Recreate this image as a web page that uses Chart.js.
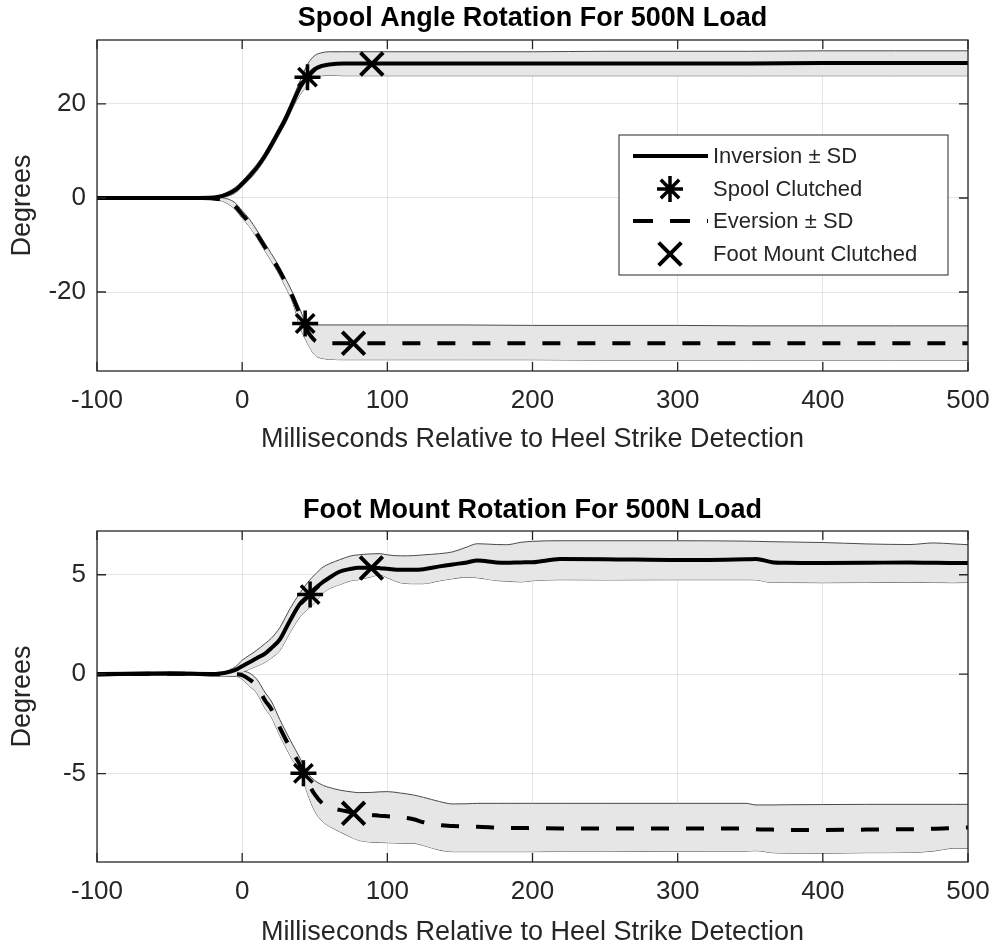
<!DOCTYPE html>
<html lang="en">
<head>
    <meta charset="UTF-8">
    <title>Spool / Foot Mount Rotation</title>
    <script src="https://cdn.jsdelivr.net/npm/chart.js"></script>
    <style>
        body { margin: 0; background: #fff; }
        .wrap { position: relative; width: 996px; height: 949px; }
        canvas { position: absolute; left: 0; }
        #spoolChart { top: 0; }
        #footChart { top: 474px; }
    </style>
</head>
<body>
<div class="wrap">
    <canvas id="spoolChart" width="996" height="474"></canvas>
    <canvas id="footChart" width="996" height="475"></canvas>
</div>
<script>
    // ---- data ----
    const xTicks = [-100, 0, 100, 200, 300, 400, 500];

    // top panel: spool angle (deg)
    const spoolTime = [-100, -60, -30, -17, -10, -5, 0, 5, 10, 15, 20, 25, 30, 35, 40, 45, 50, 55, 60, 70, 80, 100, 150, 200, 250, 300, 350, 400, 450, 500];
    const spoolInvMean = [0, 0, 0, 0.2, 0.8, 1.6, 3.0, 4.6, 6.4, 8.6, 11.2, 14.0, 16.9, 20.3, 23.6, 25.8, 27.4, 28.1, 28.4, 28.6, 28.6, 28.6, 28.6, 28.6, 28.6, 28.6, 28.6, 28.7, 28.7, 28.7];
    const spoolInvHi = [0.15, 0.15, 0.15, 0.4, 1.3, 2.2, 3.6, 5.3, 7.1, 9.3, 12.0, 14.8, 17.8, 21.3, 25.0, 28.4, 30.3, 30.9, 31.1, 31.1, 31.1, 31.1, 31.1, 31.1, 31.2, 31.2, 31.2, 31.3, 31.3, 31.3];
    const spoolInvLo = [-0.15, -0.15, -0.15, 0, 0.4, 1.0, 2.4, 3.9, 5.7, 7.9, 10.4, 13.2, 16.0, 19.3, 22.0, 24.0, 25.6, 26.0, 26.1, 26.0, 26.0, 26.0, 26.0, 26.0, 26.0, 26.0, 26.0, 26.0, 26.0, 26.0];
    const spoolEvMean = [0, 0, 0, -0.2, -0.7, -1.7, -3.5, -5.3, -7.6, -10.1, -12.6, -15.1, -18.0, -21.2, -25.0, -28.3, -30.3, -30.8, -30.9, -30.9, -30.9, -30.9, -30.9, -30.9, -30.9, -30.9, -30.9, -30.9, -30.9, -30.9];
    const spoolEvHi = [0.15, 0.15, 0.15, 0.1, -0.2, -1.0, -2.7, -4.5, -6.8, -9.3, -11.8, -14.3, -17.2, -20.3, -23.8, -26.9, -27.0, -27.0, -27.0, -27.0, -27.0, -27.0, -27.0, -27.1, -27.1, -27.1, -27.2, -27.2, -27.2, -27.2];
    const spoolEvLo = [-0.15, -0.15, -0.15, -0.4, -1.2, -2.4, -4.3, -6.1, -8.4, -10.9, -13.4, -16.0, -19.0, -22.4, -27.6, -30.9, -33.4, -34.1, -34.3, -34.4, -34.4, -34.4, -34.4, -34.4, -34.5, -34.5, -34.5, -34.5, -34.5, -34.5];
    const spoolStarX = [45, 43.4];
    const spoolStarY = [25.7, -26.7];
    const spoolCrossX = [89.3, 76.7];
    const spoolCrossY = [28.5, -30.9];
    const spoolYTicks = [-20, 0, 20];

    // bottom panel: foot mount (deg)
    const footTime = [-100, -50, -20, -5, 0, 5, 10, 16, 20, 26, 33, 40, 45, 50, 56, 60, 67, 75, 80, 89, 95, 100, 109, 118, 125, 136, 145, 155, 162, 175, 182, 192, 200, 219, 250, 300, 347, 354, 365, 375, 400, 430, 460, 476, 490, 500];
    const footInvMean = [0, 0.03, 0, 0.2, 0.4, 0.6, 0.8, 1.05, 1.3, 1.75, 2.7, 3.55, 3.9, 4.3, 4.65, 4.85, 5.15, 5.3, 5.35, 5.35, 5.33, 5.3, 5.25, 5.25, 5.28, 5.42, 5.52, 5.62, 5.72, 5.62, 5.6, 5.62, 5.63, 5.79, 5.78, 5.74, 5.78, 5.79, 5.63, 5.6, 5.59, 5.6, 5.62, 5.6, 5.59, 5.59];
    const footInvHi = [0.08, 0.1, 0.08, 0.35, 0.7, 0.95, 1.2, 1.55, 1.8, 2.35, 3.3, 4.1, 4.6, 5.0, 5.4, 5.55, 5.75, 5.95, 6.0, 6.05, 6.06, 6.0, 5.95, 5.96, 6.0, 6.06, 6.15, 6.4, 6.56, 6.52, 6.51, 6.63, 6.68, 6.71, 6.71, 6.71, 6.69, 6.68, 6.66, 6.65, 6.62, 6.55, 6.52, 6.6, 6.55, 6.51];
    const footInvLo = [-0.08, -0.05, -0.08, -0.1, 0.1, 0.25, 0.4, 0.6, 0.8, 1.2, 2.1, 2.9, 3.25, 3.6, 4.1, 4.3, 4.5, 4.7, 4.75, 4.9, 5.0, 4.85, 4.6, 4.55, 4.55, 4.7, 4.8, 4.88, 4.85, 4.71, 4.68, 4.64, 4.7, 4.75, 4.74, 4.75, 4.75, 4.74, 4.61, 4.61, 4.6, 4.61, 4.62, 4.61, 4.6, 4.61];
    const footEvMean = [0, 0.02, 0, 0, -0.05, -0.27, -0.6, -1.35, -1.75, -2.7, -3.7, -4.6, -5.4, -6.05, -6.55, -6.7, -6.83, -6.95, -7.02, -7.08, -7.13, -7.15, -7.2, -7.3, -7.45, -7.59, -7.64, -7.67, -7.68, -7.72, -7.74, -7.74, -7.75, -7.76, -7.76, -7.76, -7.76, -7.8, -7.82, -7.84, -7.84, -7.82, -7.8, -7.78, -7.74, -7.71];
    const footEvHi = [0.08, 0.1, 0.08, 0.1, 0.15, 0.05, -0.25, -0.95, -1.35, -2.3, -3.3, -4.25, -4.95, -5.35, -5.6, -5.7, -5.83, -5.92, -5.96, -5.95, -5.92, -5.91, -5.98, -6.08, -6.2, -6.41, -6.53, -6.52, -6.5, -6.5, -6.5, -6.5, -6.5, -6.5, -6.5, -6.5, -6.5, -6.58, -6.58, -6.57, -6.56, -6.55, -6.55, -6.55, -6.55, -6.55];
    const footEvLo = [-0.08, -0.05, -0.08, -0.1, -0.25, -0.6, -0.95, -1.75, -2.15, -3.1, -4.1, -5.0, -6.0, -6.9, -7.45, -7.65, -7.92, -8.2, -8.35, -8.45, -8.47, -8.48, -8.5, -8.51, -8.62, -8.85, -8.93, -8.93, -8.93, -8.93, -8.93, -8.93, -8.93, -8.92, -8.92, -8.91, -8.9, -8.88, -8.98, -9.0, -9.01, -8.98, -8.97, -8.9, -8.76, -8.76];
    const footStarX = [46.8, 42.2];
    const footStarY = [4.0, -4.99];
    const footCrossX = [89, 76.7];
    const footCrossY = [5.34, -7.0];
    const footYTicks = [-5, 0, 5];

    // ---- styling ----
    const FONT = "'Liberation Sans', Arial, sans-serif";
    const AX = '#262626';
    const BAND_FILL = '#e6e6e6';
    const BAND_EDGE = '#4a4a4a';
    const DASH = [18, 17];

    function pts(xs, ys) {
        return xs.map((x, i) => ({ x: x, y: ys[i] }));
    }

    function buildDatasets(t, invMean, invHi, invLo, evMean, evHi, evLo, starX, starY, crossX, crossY) {
        const band = (data, fill) => ({
            data: data, fill: fill, backgroundColor: BAND_FILL, borderColor: BAND_EDGE,
            borderWidth: 1, pointRadius: 0, cubicInterpolationMode: 'monotone', order: 5
        });
        const mean = (data, dash) => ({
            data: data, fill: false, borderColor: '#000', borderWidth: 4, borderDash: dash,
            pointRadius: 0, cubicInterpolationMode: 'monotone', order: 1
        });
        const marks = (data, style, r, w) => ({
            data: data, showLine: false, pointStyle: style, pointRadius: r,
            pointBorderWidth: w, pointBorderColor: '#000', pointBackgroundColor: '#000', order: 0
        });
        return [
            band(pts(t, invHi), '+1'),
            band(pts(t, invLo), false),
            band(pts(t, evHi), '+1'),
            band(pts(t, evLo), false),
            mean(pts(t, invMean), []),
            mean(pts(t, evMean), DASH),
            marks(pts(starX, starY), 'star', 13, 3.5),
            marks(pts(crossX, crossY), 'crossRot', 16, 4)
        ];
    }

    function marker(ctx, style, x, y, r) {
        ctx.beginPath();
        if (style === 'star') {
            ctx.moveTo(x - r, y); ctx.lineTo(x + r, y);
            ctx.moveTo(x, y - r); ctx.lineTo(x, y + r);
        }
        const d = r * Math.SQRT1_2;
        ctx.moveTo(x - d, y - d); ctx.lineTo(x + d, y + d);
        ctx.moveTo(x - d, y + d); ctx.lineTo(x + d, y - d);
        ctx.stroke();
    }

    // box, inward ticks, panel title and (top panel) legend
    const framePlugin = {
        id: 'frame',
        afterDraw(chart, args, opts) {
            const ctx = chart.ctx;
            const a = chart.chartArea;
            const xs = chart.scales.x, ys = chart.scales.y;
            ctx.save();
            ctx.strokeStyle = AX;
            ctx.lineWidth = 1.3;
            ctx.strokeRect(a.left, a.top, a.right - a.left, a.bottom - a.top);
            ctx.beginPath();
            xs.ticks.forEach(tk => {
                const p = xs.getPixelForValue(tk.value);
                ctx.moveTo(p, a.bottom); ctx.lineTo(p, a.bottom - 9);
                ctx.moveTo(p, a.top); ctx.lineTo(p, a.top + 9);
            });
            ys.ticks.forEach(tk => {
                const p = ys.getPixelForValue(tk.value);
                ctx.moveTo(a.left, p); ctx.lineTo(a.left + 9, p);
                ctx.moveTo(a.right, p); ctx.lineTo(a.right - 9, p);
            });
            ctx.stroke();

            ctx.fillStyle = '#000';
            ctx.font = 'bold 27px ' + FONT;
            ctx.textAlign = 'center';
            ctx.textBaseline = 'middle';
            ctx.fillText(opts.title, (a.left + a.right) / 2, opts.titleY);

            if (opts.legend) {
                const L = 619, T = 135, R = 948, B = 275;
                ctx.fillStyle = '#fff';
                ctx.fillRect(L, T, R - L, B - T);
                ctx.lineWidth = 1;
                ctx.strokeStyle = AX;
                ctx.strokeRect(L, T, R - L, B - T);
                ctx.strokeStyle = '#000';
                ctx.lineWidth = 4;
                ctx.beginPath(); ctx.moveTo(633, 156); ctx.lineTo(708, 156); ctx.stroke();
                ctx.setLineDash([20, 17]);
                ctx.beginPath(); ctx.moveTo(633, 221); ctx.lineTo(708, 221); ctx.stroke();
                ctx.setLineDash([]);
                ctx.lineWidth = 3.5;
                marker(ctx, 'star', 670, 189, 13);
                ctx.lineWidth = 4;
                marker(ctx, 'crossRot', 670, 254, 16);
                ctx.fillStyle = '#262626';
                ctx.font = '22px ' + FONT;
                ctx.textAlign = 'left';
                const labels = ['Inversion \u00b1 SD', 'Spool Clutched', 'Eversion \u00b1 SD', 'Foot Mount Clutched'];
                [157, 190, 222, 255].forEach((y, i) => ctx.fillText(labels[i], 713, y));
            }
            ctx.restore();
        }
    };

    function makeChart(id, datasets, yMin, yMax, yTicks, padTop, xHeight, xTitlePad, title, titleY, legend) {
        const tickFont = { family: FONT, size: 26 };
        const labelFont = { family: FONT, size: 27 };
        return new Chart(document.getElementById(id), {
            type: 'line',
            data: { datasets: datasets },
            plugins: [framePlugin],
            options: {
                responsive: false,
                animation: false,
                devicePixelRatio: 1,
                layout: { padding: { top: padTop, right: 28, left: 0, bottom: 0 } },
                plugins: {
                    legend: { display: false },
                    tooltip: { enabled: false },
                    frame: { title: title, titleY: titleY, legend: legend }
                },
                scales: {
                    x: {
                        type: 'linear', min: -100, max: 500,
                        afterBuildTicks: s => { s.ticks = xTicks.map(v => ({ value: v })); },
                        afterFit: s => { s.height = xHeight; s.paddingLeft = 0; s.paddingRight = 0; },
                        grid: { color: 'rgba(0,0,0,0.1)', drawTicks: false },
                        border: { display: false },
                        ticks: { padding: 14, font: tickFont, color: AX, callback: v => String(v) },
                        title: {
                            display: true, text: 'Milliseconds Relative to Heel Strike Detection',
                            font: labelFont, color: AX, padding: { top: 0, bottom: xTitlePad }
                        }
                    },
                    y: {
                        min: yMin, max: yMax,
                        afterBuildTicks: s => { s.ticks = yTicks.map(v => ({ value: v })); },
                        afterFit: s => { s.width = 97; s.paddingTop = 0; s.paddingBottom = 0; },
                        grid: { color: 'rgba(0,0,0,0.1)', drawTicks: false },
                        border: { display: false },
                        ticks: { padding: 11, font: tickFont, color: AX, callback: v => String(v) },
                        title: {
                            display: true, text: 'Degrees', font: labelFont, color: AX,
                            padding: { top: 6, bottom: 0 }
                        }
                    }
                }
            }
        });
    }

    makeChart('spoolChart',
        buildDatasets(spoolTime, spoolInvMean, spoolInvHi, spoolInvLo, spoolEvMean, spoolEvHi, spoolEvLo,
            spoolStarX, spoolStarY, spoolCrossX, spoolCrossY),
        -36.8, 33.6, spoolYTicks, 40, 103, 18, 'Spool Angle Rotation For 500N Load', 19, true);

    makeChart('footChart',
        buildDatasets(footTime, footInvMean, footInvHi, footInvLo, footEvMean, footEvHi, footEvLo,
            footStarX, footStarY, footCrossX, footCrossY),
        -9.45, 7.2, footYTicks, 57, 87, 0, 'Foot Mount Rotation For 500N Load', 37, false);
</script>
</body>
</html>
